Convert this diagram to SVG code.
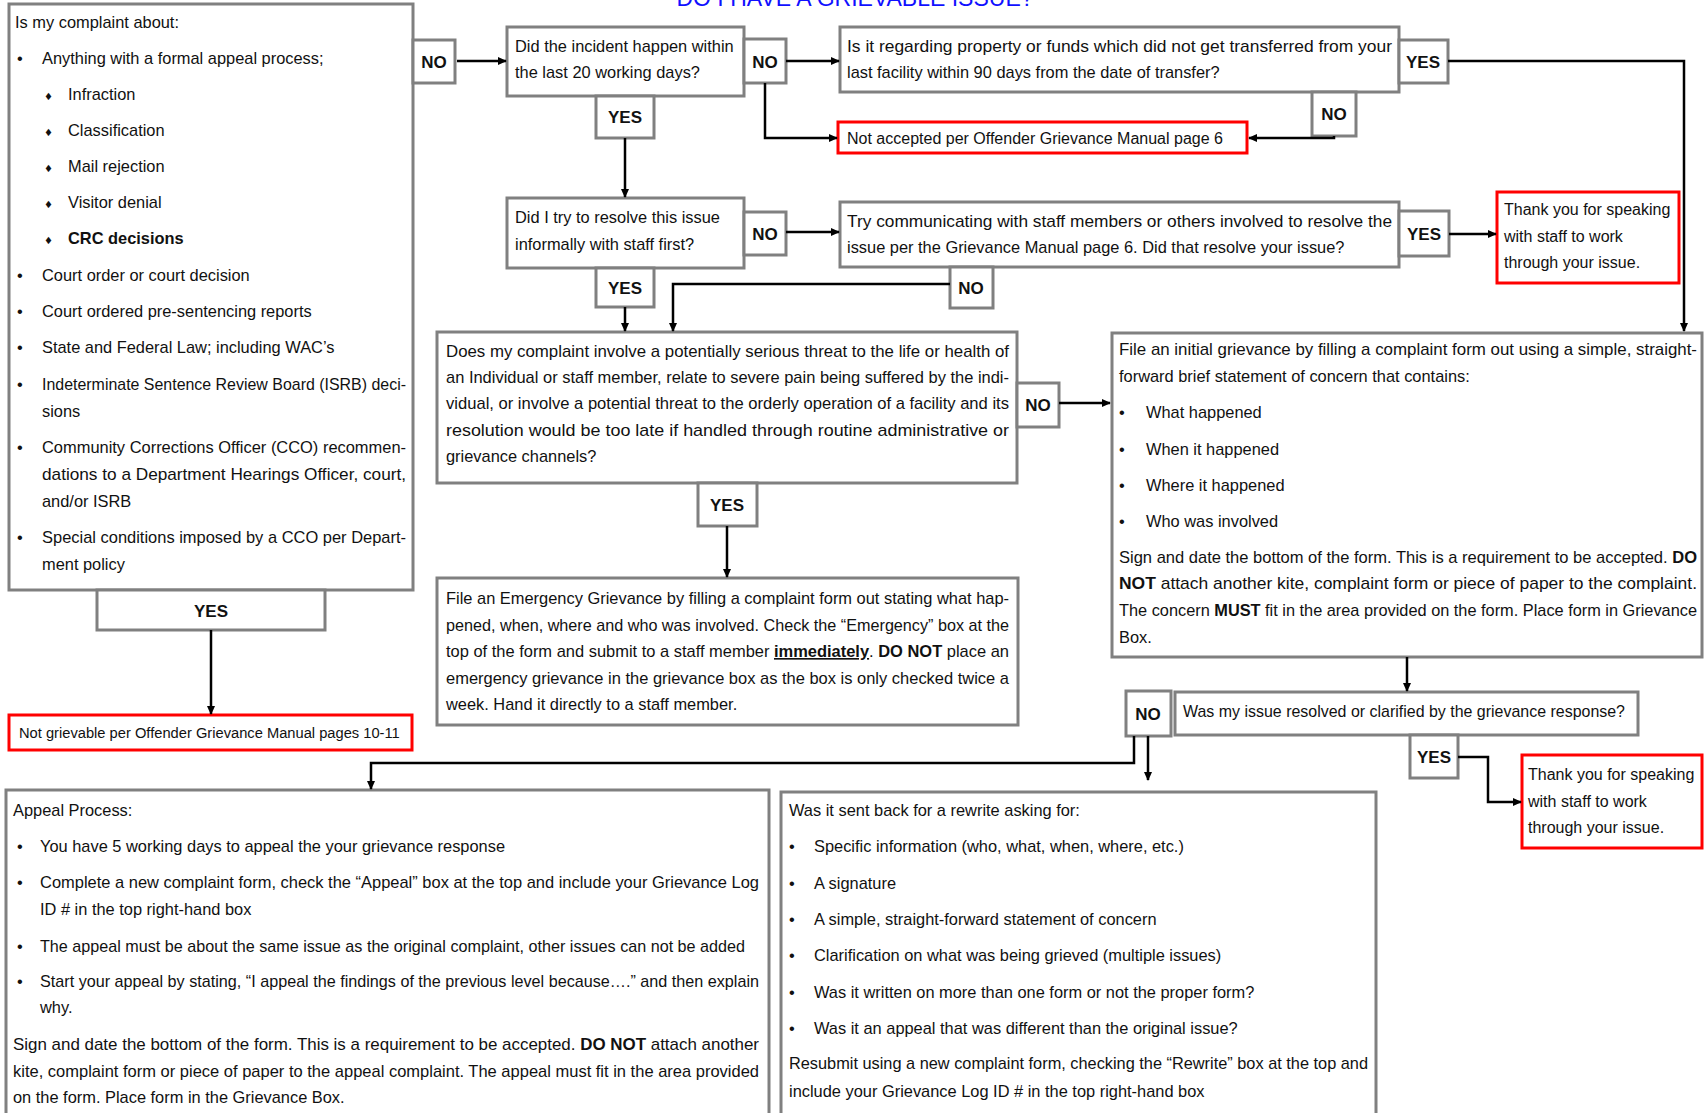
<svg xmlns="http://www.w3.org/2000/svg" width="1705" height="1113" viewBox="0 0 1705 1113">
<defs>
<style>
.box{fill:#fff;stroke:#808080;stroke-width:3}
.red{fill:#fff;stroke:#f00;stroke-width:3}
text{font-family:"Liberation Sans",Arial,sans-serif;fill:#111}
.t{font-size:16.4px}
.s{font-size:14.7px}
.l{font-size:17px;font-weight:bold;text-anchor:middle}
.b{font-weight:bold}
.d{font-family:"DejaVu Sans",sans-serif;font-size:10px}
.title{font-size:23px;fill:#1010ff;text-anchor:middle}
.c{fill:none;stroke:#000;stroke-width:2.5;marker-end:url(#ah)}
</style>
<marker id="ah" viewBox="0 0 10 10" refX="9" refY="5" markerWidth="9" markerHeight="9" markerUnits="userSpaceOnUse" orient="auto"><path d="M0,0.5 L10,5 L0,9.5 z" fill="#000"/></marker>
</defs>
<rect width="1705" height="1113" fill="#fff"/>
<text class="title" x="855" y="6">DO I HAVE A GRIEVABLE ISSUE?</text>

<g id="n-complaint-about">
<rect class="box" x="9" y="4" width="404" height="586"/>
<text class="t" x="15" y="28">Is my complaint about:</text>
<text class="t" x="17" y="64">•</text><text class="t" x="42" y="64">Anything with a formal appeal process;</text>
<text class="d" x="44" y="100">♦</text><text class="t" x="68" y="100">Infraction</text>
<text class="d" x="44" y="136">♦</text><text class="t" x="68" y="136">Classification</text>
<text class="d" x="44" y="172">♦</text><text class="t" x="68" y="172">Mail rejection</text>
<text class="d" x="44" y="208">♦</text><text class="t" x="68" y="208">Visitor denial</text>
<text class="d" x="44" y="244">♦</text><text class="t b" x="68" y="244">CRC decisions</text>
<text class="t" x="17" y="281">•</text><text class="t" x="42" y="281">Court order or court decision</text>
<text class="t" x="17" y="317">•</text><text class="t" x="42" y="317">Court ordered pre-sentencing reports</text>
<text class="t" x="17" y="353">•</text><text class="t" x="42" y="353">State and Federal Law; including WAC’s</text>
<text class="t" x="17" y="390">•</text><text class="t" x="42" y="390" textLength="364" lengthAdjust="spacingAndGlyphs">Indeterminate Sentence Review Board (ISRB) deci-</text>
<text class="t" x="42" y="417">sions</text>
<text class="t" x="17" y="453">•</text><text class="t" x="42" y="453" textLength="364" lengthAdjust="spacingAndGlyphs">Community Corrections Officer (CCO) recommen-</text>
<text class="t" x="42" y="480" textLength="364" lengthAdjust="spacingAndGlyphs">dations to a Department Hearings Officer, court,</text>
<text class="t" x="42" y="507">and/or ISRB</text>
<text class="t" x="17" y="543">•</text><text class="t" x="42" y="543" textLength="364" lengthAdjust="spacingAndGlyphs">Special conditions imposed by a CCO per Depart-</text>
<text class="t" x="42" y="570">ment policy</text>
</g>

<g id="l-yes-left"><rect class="box" x="97" y="590" width="228" height="40"/><text class="l" x="211" y="617">YES</text></g>
<g id="n-not-grievable"><rect class="red" x="9" y="715" width="403" height="35"/><text class="s" x="19" y="738">Not grievable per Offender Grievance Manual pages 10-11</text></g>

<g id="l-no1"><rect class="box" x="413" y="40" width="42" height="43"/><text class="l" x="434" y="68">NO</text></g>

<g id="n-did-incident">
<rect class="box" x="507" y="27" width="237" height="69"/>
<text class="t" x="515" y="52">Did the incident happen within</text>
<text class="t" x="515" y="78">the last 20 working days?</text>
</g>
<g id="l-no2"><rect class="box" x="744" y="39" width="42" height="44"/><text class="l" x="765" y="68">NO</text></g>
<g id="l-yes-did"><rect class="box" x="596" y="96" width="58" height="42"/><text class="l" x="625" y="123">YES</text></g>

<g id="n-property">
<rect class="box" x="840" y="27" width="559" height="65"/>
<text class="t" x="847" y="52" textLength="545" lengthAdjust="spacingAndGlyphs">Is it regarding property or funds which did not get transferred from your</text>
<text class="t" x="847" y="78">last facility within 90 days from the date of transfer?</text>
</g>
<g id="l-yes-prop"><rect class="box" x="1399" y="40" width="49" height="43"/><text class="l" x="1423" y="68">YES</text></g>
<g id="l-no-prop"><rect class="box" x="1312" y="92" width="44" height="44"/><text class="l" x="1334" y="120">NO</text></g>
<g id="n-not-accepted"><rect class="red" x="838" y="122" width="409" height="31"/><text class="t" x="847" y="144" style="font-size:16px">Not accepted per Offender Grievance Manual page 6</text></g>

<g id="n-did-try">
<rect class="box" x="507" y="198" width="237" height="70"/>
<text class="t" x="515" y="223">Did I try to resolve this issue</text>
<text class="t" x="515" y="250">informally with staff first?</text>
</g>
<g id="l-no3"><rect class="box" x="744" y="212" width="42" height="43"/><text class="l" x="765" y="240">NO</text></g>
<g id="l-yes-try1"><rect class="box" x="596" y="268" width="58" height="39"/><text class="l" x="625" y="294">YES</text></g>

<g id="n-try-communicating">
<rect class="box" x="840" y="202" width="559" height="65"/>
<text class="t" x="847" y="227" textLength="545" lengthAdjust="spacingAndGlyphs">Try communicating with staff members or others involved to resolve the</text>
<text class="t" x="847" y="253">issue per the Grievance Manual page 6. Did that resolve your issue?</text>
</g>
<g id="l-yes-try2"><rect class="box" x="1399" y="211" width="50" height="45"/><text class="l" x="1424" y="240">YES</text></g>
<g id="l-no-try"><rect class="box" x="950" y="267" width="43" height="41"/><text class="l" x="971" y="294">NO</text></g>
<g id="n-thanks1">
<rect class="red" x="1497" y="192" width="182" height="91"/>
<text class="t" x="1504" y="215" style="font-size:16px">Thank you for speaking</text>
<text class="t" x="1504" y="242" style="font-size:16px">with staff to work</text>
<text class="t" x="1504" y="268" style="font-size:16px">through your issue.</text>
</g>

<g id="n-serious-threat">
<rect class="box" x="437" y="332" width="580" height="151"/>
<text class="t" x="446" y="357" textLength="563" lengthAdjust="spacingAndGlyphs">Does my complaint involve a potentially serious threat to the life or health of</text>
<text class="t" x="446" y="383" textLength="563" lengthAdjust="spacingAndGlyphs">an Individual or staff member, relate to severe pain being suffered by the indi-</text>
<text class="t" x="446" y="409" textLength="563" lengthAdjust="spacingAndGlyphs">vidual, or involve a potential threat to the orderly operation of a facility and its</text>
<text class="t" x="446" y="436" textLength="563" lengthAdjust="spacingAndGlyphs">resolution would be too late if handled through routine administrative or</text>
<text class="t" x="446" y="462">grievance channels?</text>
</g>
<g id="l-no-threat"><rect class="box" x="1017" y="383" width="42" height="44"/><text class="l" x="1038" y="411">NO</text></g>
<g id="l-yes-threat"><rect class="box" x="698" y="483" width="59" height="43"/><text class="l" x="727" y="511">YES</text></g>

<g id="n-emergency">
<rect class="box" x="437" y="578" width="581" height="147"/>
<text class="t" x="446" y="604" textLength="563" lengthAdjust="spacingAndGlyphs">File an Emergency Grievance by filling a complaint form out stating what hap-</text>
<text class="t" x="446" y="631" textLength="563" lengthAdjust="spacingAndGlyphs">pened, when, where and who was involved. Check the “Emergency” box at the</text>
<text class="t" x="446" y="657" textLength="563" lengthAdjust="spacingAndGlyphs">top of the form and submit to a staff member <tspan class="b" text-decoration="underline">immediately</tspan>. <tspan class="b">DO NOT</tspan> place an</text>
<text class="t" x="446" y="684" textLength="563" lengthAdjust="spacingAndGlyphs">emergency grievance in the grievance box as the box is only checked twice a</text>
<text class="t" x="446" y="710">week. Hand it directly to a staff member.</text>
</g>

<g id="n-initial-grievance">
<rect class="box" x="1112" y="333" width="590" height="324"/>
<text class="t" x="1119" y="355" textLength="578" lengthAdjust="spacingAndGlyphs">File an initial grievance by filling a complaint form out  using a simple, straight-</text>
<text class="t" x="1119" y="382">forward brief statement of concern that contains:</text>
<text class="t" x="1119" y="418">•</text><text class="t" x="1146" y="418">What happened</text>
<text class="t" x="1119" y="455">•</text><text class="t" x="1146" y="455">When it happened</text>
<text class="t" x="1119" y="491">•</text><text class="t" x="1146" y="491">Where it happened</text>
<text class="t" x="1119" y="527">•</text><text class="t" x="1146" y="527">Who was involved</text>
<text class="t" x="1119" y="563" textLength="578" lengthAdjust="spacingAndGlyphs">Sign and date the bottom of the form. This is a requirement to be accepted. <tspan class="b">DO</tspan></text>
<text class="t" x="1119" y="589" textLength="578" lengthAdjust="spacingAndGlyphs"><tspan class="b">NOT</tspan> attach another kite, complaint form or piece of paper to the complaint.</text>
<text class="t" x="1119" y="616" textLength="578" lengthAdjust="spacingAndGlyphs">The concern <tspan class="b">MUST</tspan> fit in the area provided on the form.  Place form in Grievance</text>
<text class="t" x="1119" y="643">Box.</text>
</g>

<g id="n-resolved">
<rect class="box" x="1175" y="692" width="463" height="43"/>
<text class="t" x="1183" y="717" textLength="442" lengthAdjust="spacingAndGlyphs">Was my issue resolved or clarified by the grievance response?</text>
</g>
<g id="l-no-resolved"><rect class="box" x="1126" y="691" width="45" height="45"/><text class="l" x="1148" y="720">NO</text></g>
<g id="l-yes-resolved"><rect class="box" x="1410" y="735" width="48" height="43"/><text class="l" x="1434" y="763">YES</text></g>
<g id="n-thanks2">
<rect class="red" x="1522" y="755" width="180" height="93"/>
<text class="t" x="1528" y="780" style="font-size:16px">Thank you for speaking</text>
<text class="t" x="1528" y="807" style="font-size:16px">with staff to work</text>
<text class="t" x="1528" y="833" style="font-size:16px">through your issue.</text>
</g>

<g id="n-appeal">
<rect class="box" x="6" y="790" width="763" height="340"/>
<text class="t" x="13" y="816">Appeal Process:</text>
<text class="t" x="17" y="852">•</text><text class="t" x="40" y="852">You have 5 working days to appeal the your grievance response</text>
<text class="t" x="17" y="888">•</text><text class="t" x="40" y="888" textLength="719" lengthAdjust="spacingAndGlyphs">Complete a new complaint form, check the “Appeal” box at the top and include your Grievance Log</text>
<text class="t" x="40" y="915">ID # in the top right-hand box</text>
<text class="t" x="17" y="952">•</text><text class="t" x="40" y="952" textLength="705" lengthAdjust="spacingAndGlyphs">The  appeal must be about the same issue as the original complaint, other issues can not be added</text>
<text class="t" x="17" y="987">•</text><text class="t" x="40" y="987" textLength="719" lengthAdjust="spacingAndGlyphs">Start your appeal by stating, “I appeal the findings of the previous level because….” and then explain</text>
<text class="t" x="40" y="1013">why.</text>
<text class="t" x="13" y="1050" textLength="746" lengthAdjust="spacingAndGlyphs">Sign and date the bottom of the form. This is a requirement to be accepted. <tspan class="b">DO NOT</tspan> attach another</text>
<text class="t" x="13" y="1077" textLength="746" lengthAdjust="spacingAndGlyphs">kite, complaint form or piece of paper to the appeal complaint. The appeal must fit in the area provided</text>
<text class="t" x="13" y="1103">on the form. Place form in the Grievance Box.</text>
</g>

<g id="n-rewrite">
<rect class="box" x="781" y="792" width="595" height="340"/>
<text class="t" x="789" y="816">Was it sent back for a rewrite asking for:</text>
<text class="t" x="789" y="852">•</text><text class="t" x="814" y="852">Specific information (who, what, when, where, etc.)</text>
<text class="t" x="789" y="889">•</text><text class="t" x="814" y="889">A signature</text>
<text class="t" x="789" y="925">•</text><text class="t" x="814" y="925">A simple, straight-forward statement of concern</text>
<text class="t" x="789" y="961">•</text><text class="t" x="814" y="961">Clarification on what was being grieved (multiple issues)</text>
<text class="t" x="789" y="998">•</text><text class="t" x="814" y="998">Was it written on more than one form or not the proper form?</text>
<text class="t" x="789" y="1034">•</text><text class="t" x="814" y="1034">Was it an appeal that was different than the original issue?</text>
<text class="t" x="789" y="1069" textLength="579" lengthAdjust="spacingAndGlyphs">Resubmit using a new complaint form, checking the “Rewrite” box at the top and</text>
<text class="t" x="789" y="1097">include your Grievance Log ID # in the top right-hand box</text>
</g>

<g id="connectors">
<path class="c" d="M457,61 H506"/>
<path class="c" d="M786,61 H839"/>
<path class="c" d="M1448,61 H1684 V331"/>
<path class="c" d="M625,138 V197"/>
<path class="c" d="M765,83 V138 H837"/>
<path class="c" d="M1334,136 V138 H1249"/>
<path class="c" d="M786,232 H839"/>
<path class="c" d="M1449,234 H1496"/>
<path class="c" d="M625,307 V331"/>
<path class="c" d="M950,284 H673 V331"/>
<path class="c" d="M1059,403 H1110"/>
<path class="c" d="M727,526 V577"/>
<path class="c" d="M211,630 V714"/>
<path class="c" d="M1407,657 V691"/>
<path class="c" d="M1458,757 H1488 V802 H1521"/>
<path class="c" d="M1134,736 V763 H371 V789"/>
<path class="c" d="M1148,736 V780"/>
</g>
</svg>
